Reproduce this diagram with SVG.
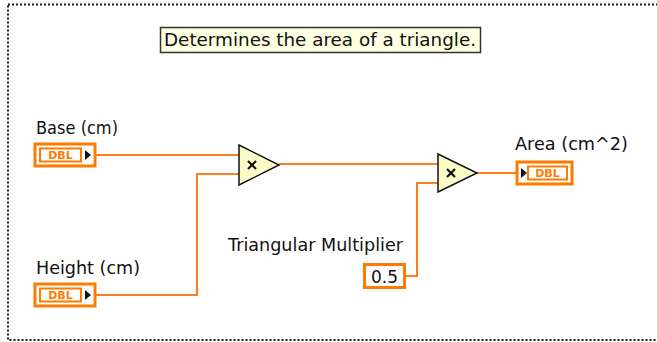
<svg xmlns="http://www.w3.org/2000/svg" width="657" height="342" viewBox="0 0 657 342">
  <style>
    .frame { fill: none; stroke: #1a1a1a; stroke-width: 2; stroke-dasharray: 2 2; }
    .label { font-family: "DejaVu Sans", Verdana, sans-serif; font-size: 17px; fill: #111; }
    .wire { fill: none; stroke: #ff7f1a; stroke-width: 2; }
    .term-outer { fill: #fff; stroke: #ff7a00; stroke-width: 3; }
    .term-inner { fill: #fff; stroke: #ff7a00; stroke-width: 2; }
    .dbl { font-family: "DejaVu Sans", Verdana, sans-serif; font-size: 11px; font-weight: bold; fill: #ff7a00; text-anchor: middle; }
    .mul { fill: #fbfbc8; stroke: #111; stroke-width: 1.5; stroke-linejoin: miter; }
    .cross { stroke: #111; stroke-width: 2.2; }
    .arrow { fill: #111; }
  </style>

  <!-- block diagram frame -->
  <rect class="frame" x="8" y="4.5" width="700" height="335.5"/>

  <!-- free label / comment -->
  <g id="comment">
    <rect x="160.5" y="27.5" width="320" height="25" fill="#ffffe1" stroke="#333" stroke-width="1.5"/>
    <text class="label" x="164" y="46" textLength="312" lengthAdjust="spacingAndGlyphs">Determines the area of a triangle.</text>
  </g>

  <!-- wires -->
  <g id="wires">
    <polyline class="wire" points="95,155 239,155"/>
    <polyline class="wire" points="95,295 197,295 197,174 239,174"/>
    <polyline class="wire" points="279,164 438,164"/>
    <polyline class="wire" points="405,276 417,276 417,183 438,183"/>
    <polyline class="wire" points="477,173 517,173"/>
  </g>

  <!-- Base control -->
  <g id="base">
    <text class="label" x="36" y="134" textLength="82" lengthAdjust="spacingAndGlyphs">Base (cm)</text>
    <rect class="term-outer" x="35" y="144" width="60" height="22"/>
    <rect class="term-inner" x="40" y="148.5" width="41" height="13"/>
    <text class="dbl" x="60.5" y="159.3">DBL</text>
    <polygon class="arrow" points="85,150 91,155 85,160"/>
  </g>

  <!-- Height control -->
  <g id="height">
    <text class="label" x="36" y="274" textLength="104" lengthAdjust="spacingAndGlyphs">Height (cm)</text>
    <rect class="term-outer" x="35" y="284" width="60" height="22"/>
    <rect class="term-inner" x="40" y="288.5" width="41" height="13"/>
    <text class="dbl" x="60.5" y="299.3">DBL</text>
    <polygon class="arrow" points="85,290 91,295 85,300"/>
  </g>

  <!-- Multiply 1 -->
  <g id="multiply1">
    <polygon class="mul" points="239,145 239,185 279,165"/>
    <line class="cross" x1="248" y1="161" x2="256" y2="169"/>
    <line class="cross" x1="256" y1="161" x2="248" y2="169"/>
  </g>

  <!-- Multiply 2 -->
  <g id="multiply2">
    <polygon class="mul" points="438,154 438,192 477,173"/>
    <line class="cross" x1="447" y1="169" x2="455" y2="177"/>
    <line class="cross" x1="455" y1="169" x2="447" y2="177"/>
  </g>

  <!-- Triangular Multiplier constant -->
  <g id="multiplier">
    <text class="label" x="228" y="251" textLength="175" lengthAdjust="spacingAndGlyphs">Triangular Multiplier</text>
    <rect x="364.5" y="264.5" width="40" height="23" fill="#fff" stroke="#ff7a00" stroke-width="3"/>
    <text class="label" x="384.5" y="283" text-anchor="middle" font-size="18">0.5</text>
  </g>

  <!-- Area indicator -->
  <g id="area">
    <text class="label" x="515" y="150" textLength="113" lengthAdjust="spacingAndGlyphs">Area (cm^2)</text>
    <rect class="term-outer" x="517" y="162" width="55" height="22"/>
    <polygon class="arrow" points="521,168 527,173 521,178"/>
    <rect class="term-inner" x="528" y="166.5" width="39" height="13"/>
    <text class="dbl" x="547.5" y="177.3">DBL</text>
  </g>
</svg>
